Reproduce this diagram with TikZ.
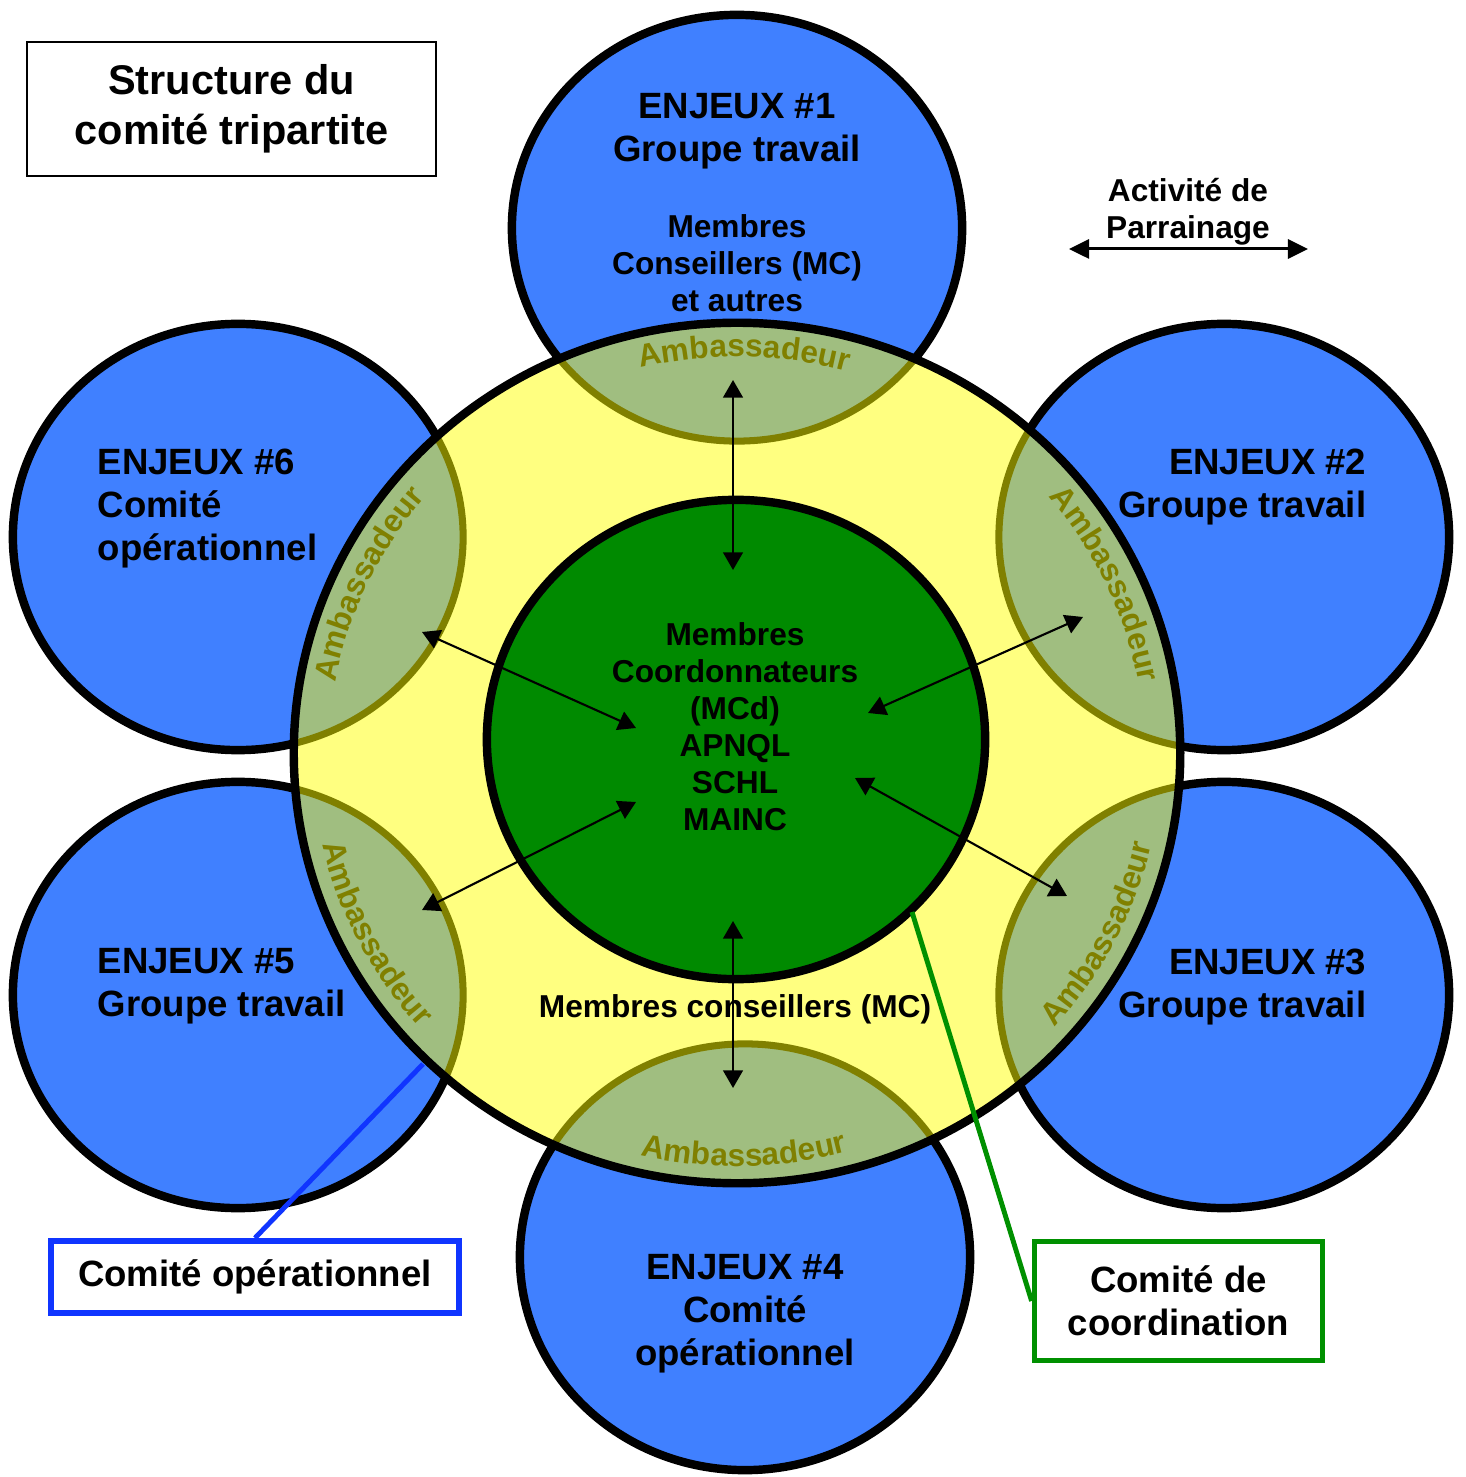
\documentclass[tikz,border=0pt]{standalone}
\usepackage{fontspec}
\setmainfont{Liberation Sans}
\usetikzlibrary{arrows.meta,decorations.text}

\definecolor{enjeublue}{HTML}{4080FF}
\definecolor{halo}{HTML}{FFFF80}
\definecolor{overlap}{HTML}{A0BE80}
\definecolor{olivering}{HTML}{808000}
\definecolor{coregreen}{HTML}{008A00}
\definecolor{opblue}{HTML}{1035FF}
\definecolor{cogreen}{HTML}{009000}

\newcommand{\ambfont}{\fontsize{9}{10}\selectfont\bfseries\color{olivering}}

\begin{document}
\begin{tikzpicture}[x=0.01cm,y=-0.01cm,
  enjeu/.style={fill=enjeublue,draw=black,line width=2.4pt},
  ring/.style={fill=overlap,draw=olivering,line width=2pt},
  link/.style={{Triangle[length=5pt,width=5.6pt]}-{Triangle[length=5pt,width=5.6pt]},line width=0.6pt},
  big/.style={font=\fontsize{10.4}{12.2}\selectfont\bfseries,inner sep=0pt},
  small/.style={font=\fontsize{9}{10.5}\selectfont\bfseries,inner sep=0pt},
  amb/.style={decorate,decoration={text along path,text align=center,text={|\ambfont|Ambassadeur}}}]
\useasboundingbox (0,0) rectangle (1465,1477);

% centres
\coordinate (yc) at (737,753);
\coordinate (gc) at (736,739.5);
\coordinate (c1) at (737,228);
\coordinate (c2) at (1224,537);
\coordinate (c3) at (1224,995);
\coordinate (c4) at (745,1257);
\coordinate (c5) at (238,995);
\coordinate (c6) at (238,537);

% enjeux, anneau, coeur
\foreach \i in {1,...,6} \draw[enjeu] (c\i) ellipse [x radius=2.25cm, y radius=2.13cm];
\fill[halo] (yc) ellipse [x radius=4.43cm, y radius=4.30cm];
\begin{scope}
  \clip (yc) ellipse [x radius=4.43cm, y radius=4.30cm];
  \foreach \i in {1,...,6} \draw[ring] (c\i) ellipse [x radius=2.25cm, y radius=2.13cm];
\end{scope}
\draw[line width=2.4pt] (yc) ellipse [x radius=4.43cm, y radius=4.30cm];
\draw[fill=coregreen,line width=2.4pt] (gc) ellipse [x radius=2.49cm, y radius=2.395cm];

% ambassadeurs
\foreach \a in {89,25,155}
  \path[amb] (yc) ++(\a+40:4.08cm and 3.96cm) arc[start angle=\a+40,end angle=\a-40,x radius=4.08cm,y radius=3.96cm];
\foreach \a in {-89,-27,207}
  \path[amb] (yc) ++(\a-40:4.25cm and 4.13cm) arc[start angle=\a-40,end angle=\a+40,x radius=4.25cm,y radius=4.13cm];

% textes
\node[big,anchor=north,align=center] (t1) at (737,93) {ENJEUX \#1\\Groupe travail};
\node[small,anchor=north,align=center] (mc1) at (737,214) {Membres\\Conseillers (MC)\\et autres};
\node[big,anchor=north east,align=right] (t2) at (1367,448) {ENJEUX \#2\\Groupe travail};
\node[big,anchor=north east,align=right] (t3) at (1367,948) {ENJEUX \#3\\Groupe travail};
\node[big,anchor=north,align=center] (t4) at (745,1254) {ENJEUX \#4\\Comité\\opérationnel};
\node[big,anchor=north west,align=left] (t5) at (97,948) {ENJEUX \#5\\Groupe travail};
\node[big,anchor=north west,align=left] (t6) at (97,448) {ENJEUX \#6\\Comité\\opérationnel};
\node[small,anchor=north,align=center] (core) at (735,622) {Membres\\Coordonnateurs\\(MCd)\\APNQL\\SCHL\\MAINC};
\node[small,anchor=north] (mc) at (735,994) {Membres conseillers (MC)};

% liens
\coordinate (a1) at (733,380);  \coordinate (m1) at (733,570);
\coordinate (a2) at (1083,617); \coordinate (m2) at (868,713);
\coordinate (a3) at (1067,896); \coordinate (m3) at (855,778);
\coordinate (a4) at (733,1088); \coordinate (m4) at (733,921);
\coordinate (a5) at (422,910);  \coordinate (m5) at (636,802);
\coordinate (a6) at (422,632);  \coordinate (m6) at (636,728);
\foreach \i in {1,...,6} \draw[link] (a\i) -- (m\i);

% legende
\node[small,anchor=north,align=center] (par) at (1188,178) {Activité de\\Parrainage};
\coordinate (parl) at (1069,249);
\coordinate (parr) at (1308,249);
\draw[{Triangle[length=5.7pt,width=5.4pt]}-{Triangle[length=5.7pt,width=5.4pt]},line width=0.85pt] (parl) -- (parr);

% titre et encadres
\node[draw,line width=0.6pt,minimum width=4.09cm,minimum height=1.34cm,align=center,
  font=\fontsize{11.8}{14.2}\selectfont\bfseries] (title) at (231.5,109) {Structure du\\comité tripartite};
\node[draw=opblue,line width=1.7pt,minimum width=4.08cm,minimum height=0.72cm,
  font=\fontsize{10.4}{12.2}\selectfont\bfseries] (opbox) at (255,1277) {Comité opérationnel};
\node[draw=cogreen,line width=1.6pt,minimum width=2.88cm,minimum height=1.19cm,align=center,
  font=\fontsize{10.4}{12.2}\selectfont\bfseries] (cobox) at (1178.5,1301) {Comité de\\coordination};
\coordinate (optip) at (423,1064);
\coordinate (cotip) at (912,912);
\draw[opblue,line width=1.4pt] (opbox.north) -- (optip);
\draw[cogreen,line width=1.4pt] (cobox.west) -- (cotip);

\end{tikzpicture}
\end{document}
